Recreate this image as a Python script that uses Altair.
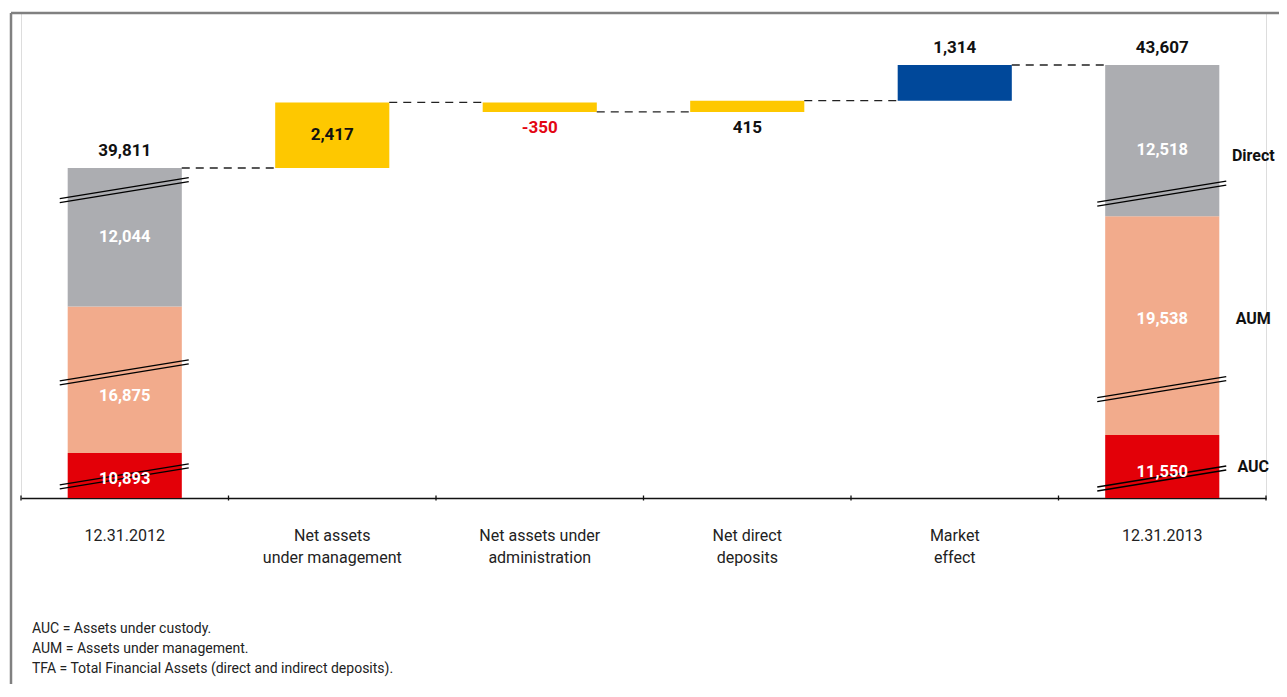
import altair as alt
import pandas as pd

# ---------------- data ----------------
categories = ["12.31.2012", "Net assets\nunder management", "Net assets under\nadministration",
              "Net direct\ndeposits", "Market\neffect", "12.31.2013"]
segment_names = ["AUC", "AUM", "Direct"]
start_segments = [10893, 16875, 12044]
end_segments = [11550, 19538, 12518]
start_total = 39811
end_total = 43607
flow_values = [2417, -350, 415, 1314]
flow_kinds = ["flow", "flow", "flow", "market"]
# part of each segment hidden by the broken axis
hidden_by_break = [9232, 11476, 6943]
value_label_place = ["above", "inside", "below", "below", "above", "above"]
footnotes = ["AUC = Assets under custody.",
             "AUM = Assets under management.",
             "TFA = Total Financial Assets (direct and indirect deposits)."]

# ---------------- style / layout ----------------
FONT = "Roboto, sans-serif"
seg_colors = {"AUC": "#e30008", "AUM": "#f2ab8c", "Direct": "#acadb1"}
flow_colors = {"flow": "#fec800", "market": "#00489a"}
# where (fraction of the drawn segment, from its bottom) the break marks and labels sit
break_frac_start = [0.48, 0.55, 0.84]
break_frac_end = [0.31, 0.21, 0.15]
label_frac_start = [0.43, 0.39, 0.50]
label_frac_end = [0.42, 0.53, 0.44]
legend_frac = [0.50, 0.53, 0.40]

v0 = sum(hidden_by_break)
y_top = 45523
W, H = 1245, 485
STEP = W / len(categories)

# ---------------- frames ----------------
seg_rows = []
for cat, segs, bfr, lfr in [(categories[0], start_segments, break_frac_start, label_frac_start),
                            (categories[-1], end_segments, break_frac_end, label_frac_end)]:
    cum = v0
    for name, val, hid, bf, lf, gf in zip(segment_names, segs, hidden_by_break, bfr, lfr, legend_frac):
        shown = val - hid
        y0, y1 = cum, cum + shown
        cum = y1
        seg_rows.append(dict(cat=cat, name=name, y0=y0, y1=y1, lab=y0 + lf * shown,
                             leg=y0 + gf * shown, brk=y0 + bf * shown,
                             label=f"{val:,}", color=seg_colors[name]))
seg_df = pd.DataFrame(seg_rows)

flow_rows = []
level = start_total
levels = [start_total]
for cat, d, kind in zip(categories[1:-1], flow_values, flow_kinds):
    y0, y1 = level, level + d
    level = y1
    levels.append(level)
    flow_rows.append(dict(cat=cat, y0=y0, y1=y1, color=flow_colors[kind]))
flow_df = pd.DataFrame(flow_rows)

conn_df = pd.DataFrame(dict(src=categories[:-1], dst=categories[1:], value=levels))

tops = [start_total] + [max(r["y0"], r["y1"]) for r in flow_rows] + [end_total]
bots = [v0] + [min(r["y0"], r["y1"]) for r in flow_rows] + [v0]
vals = [start_total] + flow_values + [end_total]
lab_rows = []
for cat, v, t, b, place in zip(categories, vals, tops, bots, value_label_place):
    anchor = {"above": t, "below": b, "inside": (t + b) / 2}[place]
    lab_rows.append(dict(cat=cat, text=f"{v:,}", anchor=anchor, place=place,
                         color="#e30613" if v < 0 else "#111111"))
lab_df = pd.DataFrame(lab_rows)

legend_df = seg_df[seg_df["cat"] == categories[-1]]
tick_df = pd.DataFrame(dict(cat=categories))

# ---------------- encodings ----------------
xs = alt.Scale(domain=categories, paddingInner=0.45, paddingOuter=0.225)
ys = alt.Scale(domain=[v0, y_top], zero=False, nice=False)
xaxis = alt.Axis(title=None, labelExpr="isValid(datum.value) ? split(datum.value, '\\n') : ''",
                 labelFont=FONT, labelFontSize=16, labelColor="#222222", labelLineHeight=22,
                 labelPadding=29, domainColor="#111111", domainWidth=1.3, ticks=False,
                 labelAngle=0)


def X(field):
    return alt.X(f"{field}:N", scale=xs, axis=xaxis, sort=categories)


def Y(field):
    return alt.Y(f"{field}:Q", scale=ys, axis=None)


bars_seg = alt.Chart(seg_df).mark_bar().encode(
    x=X("cat"), y=Y("y0"), y2="y1", color=alt.Color("color:N", scale=None))
bars_flow = alt.Chart(flow_df).mark_bar().encode(
    x=X("cat"), y=Y("y0"), y2="y1", color=alt.Color("color:N", scale=None))

conn = alt.Chart(conn_df).mark_rule(strokeDash=[8, 6], color="#222222", strokeWidth=1.4,
                                    xOffset=57, x2Offset=-57).encode(
    x=X("src"), x2="dst", y=Y("value"))

brk_a = alt.Chart(seg_df).mark_rule(color="#000000", strokeWidth=1.3, xOffset=-65,
                                    x2Offset=64, yOffset=8.5, y2Offset=-12.5).encode(
    x=X("cat"), x2="cat", y=Y("brk"), y2="brk")
brk_b = alt.Chart(seg_df).mark_rule(color="#000000", strokeWidth=1.3, xOffset=-65,
                                    x2Offset=64, yOffset=12.5, y2Offset=-8.5).encode(
    x=X("cat"), x2="cat", y=Y("brk"), y2="brk")

ticks_left = alt.Chart(tick_df).mark_rule(color="#111111", strokeWidth=1.3,
                                          xOffset=-STEP / 2).encode(
    x=X("cat"), y=alt.value(H - 2.5), y2=alt.value(H + 2.5))
ticks_right = alt.Chart(tick_df).transform_filter(
    alt.datum.cat == categories[-1]).mark_rule(color="#111111", strokeWidth=1.3,
                                               xOffset=STEP / 2).encode(
    x=X("cat"), y=alt.value(H - 2.5), y2=alt.value(H + 2.5))

seg_text = alt.Chart(seg_df).mark_text(font=FONT, fontSize=16.5, fontWeight="bold",
                                       color="white", baseline="middle").encode(
    x=X("cat"), y=Y("lab"), text="label:N")


def value_layer(place, dy):
    return alt.Chart(lab_df).transform_filter(alt.datum.place == place).mark_text(
        font=FONT, fontSize=17, fontWeight="bold", baseline="middle", dy=dy).encode(
        x=X("cat"), y=Y("anchor"), text="text:N", color=alt.Color("color:N", scale=None))


legend_text = alt.Chart(legend_df).mark_text(font=FONT, fontSize=16, fontWeight="bold",
                                             color="#111111", xOffset=91,
                                             baseline="middle").encode(
    x=X("cat"), y=Y("leg"), text="name:N")

one = alt.Data(values=[{"k": 1}])
frame_top = alt.Chart(one).mark_rule(color="#808080", strokeWidth=2.5).encode(
    x=alt.value(-10), x2=alt.value(1258), y=alt.value(0))
frame_left = alt.Chart(one).mark_rule(color="#808080", strokeWidth=2.5).encode(
    x=alt.value(-10), y=alt.value(0), y2=alt.value(676))
notes = alt.Chart(one).mark_text(font=FONT, fontSize=14, color="#222222", align="left",
                                 baseline="middle", lineHeight=20).encode(
    x=alt.value(11), y=alt.value(616), text=alt.value(footnotes))

chart = alt.layer(
    bars_seg, bars_flow, conn, brk_a, brk_b, ticks_left, ticks_right, seg_text,
    value_layer("above", -17), value_layer("inside", 0), value_layer("below", 16),
    legend_text, frame_top, frame_left, notes
).properties(
    width=W, height=H,
    autosize=alt.AutoSizeParams(type="none"),
    padding={"left": 13, "top": 5, "right": 13, "bottom": 186}
).configure_view(stroke=None).configure(background="white")

chart.save("out.html", embed_options={"renderer": "svg", "actions": False})
